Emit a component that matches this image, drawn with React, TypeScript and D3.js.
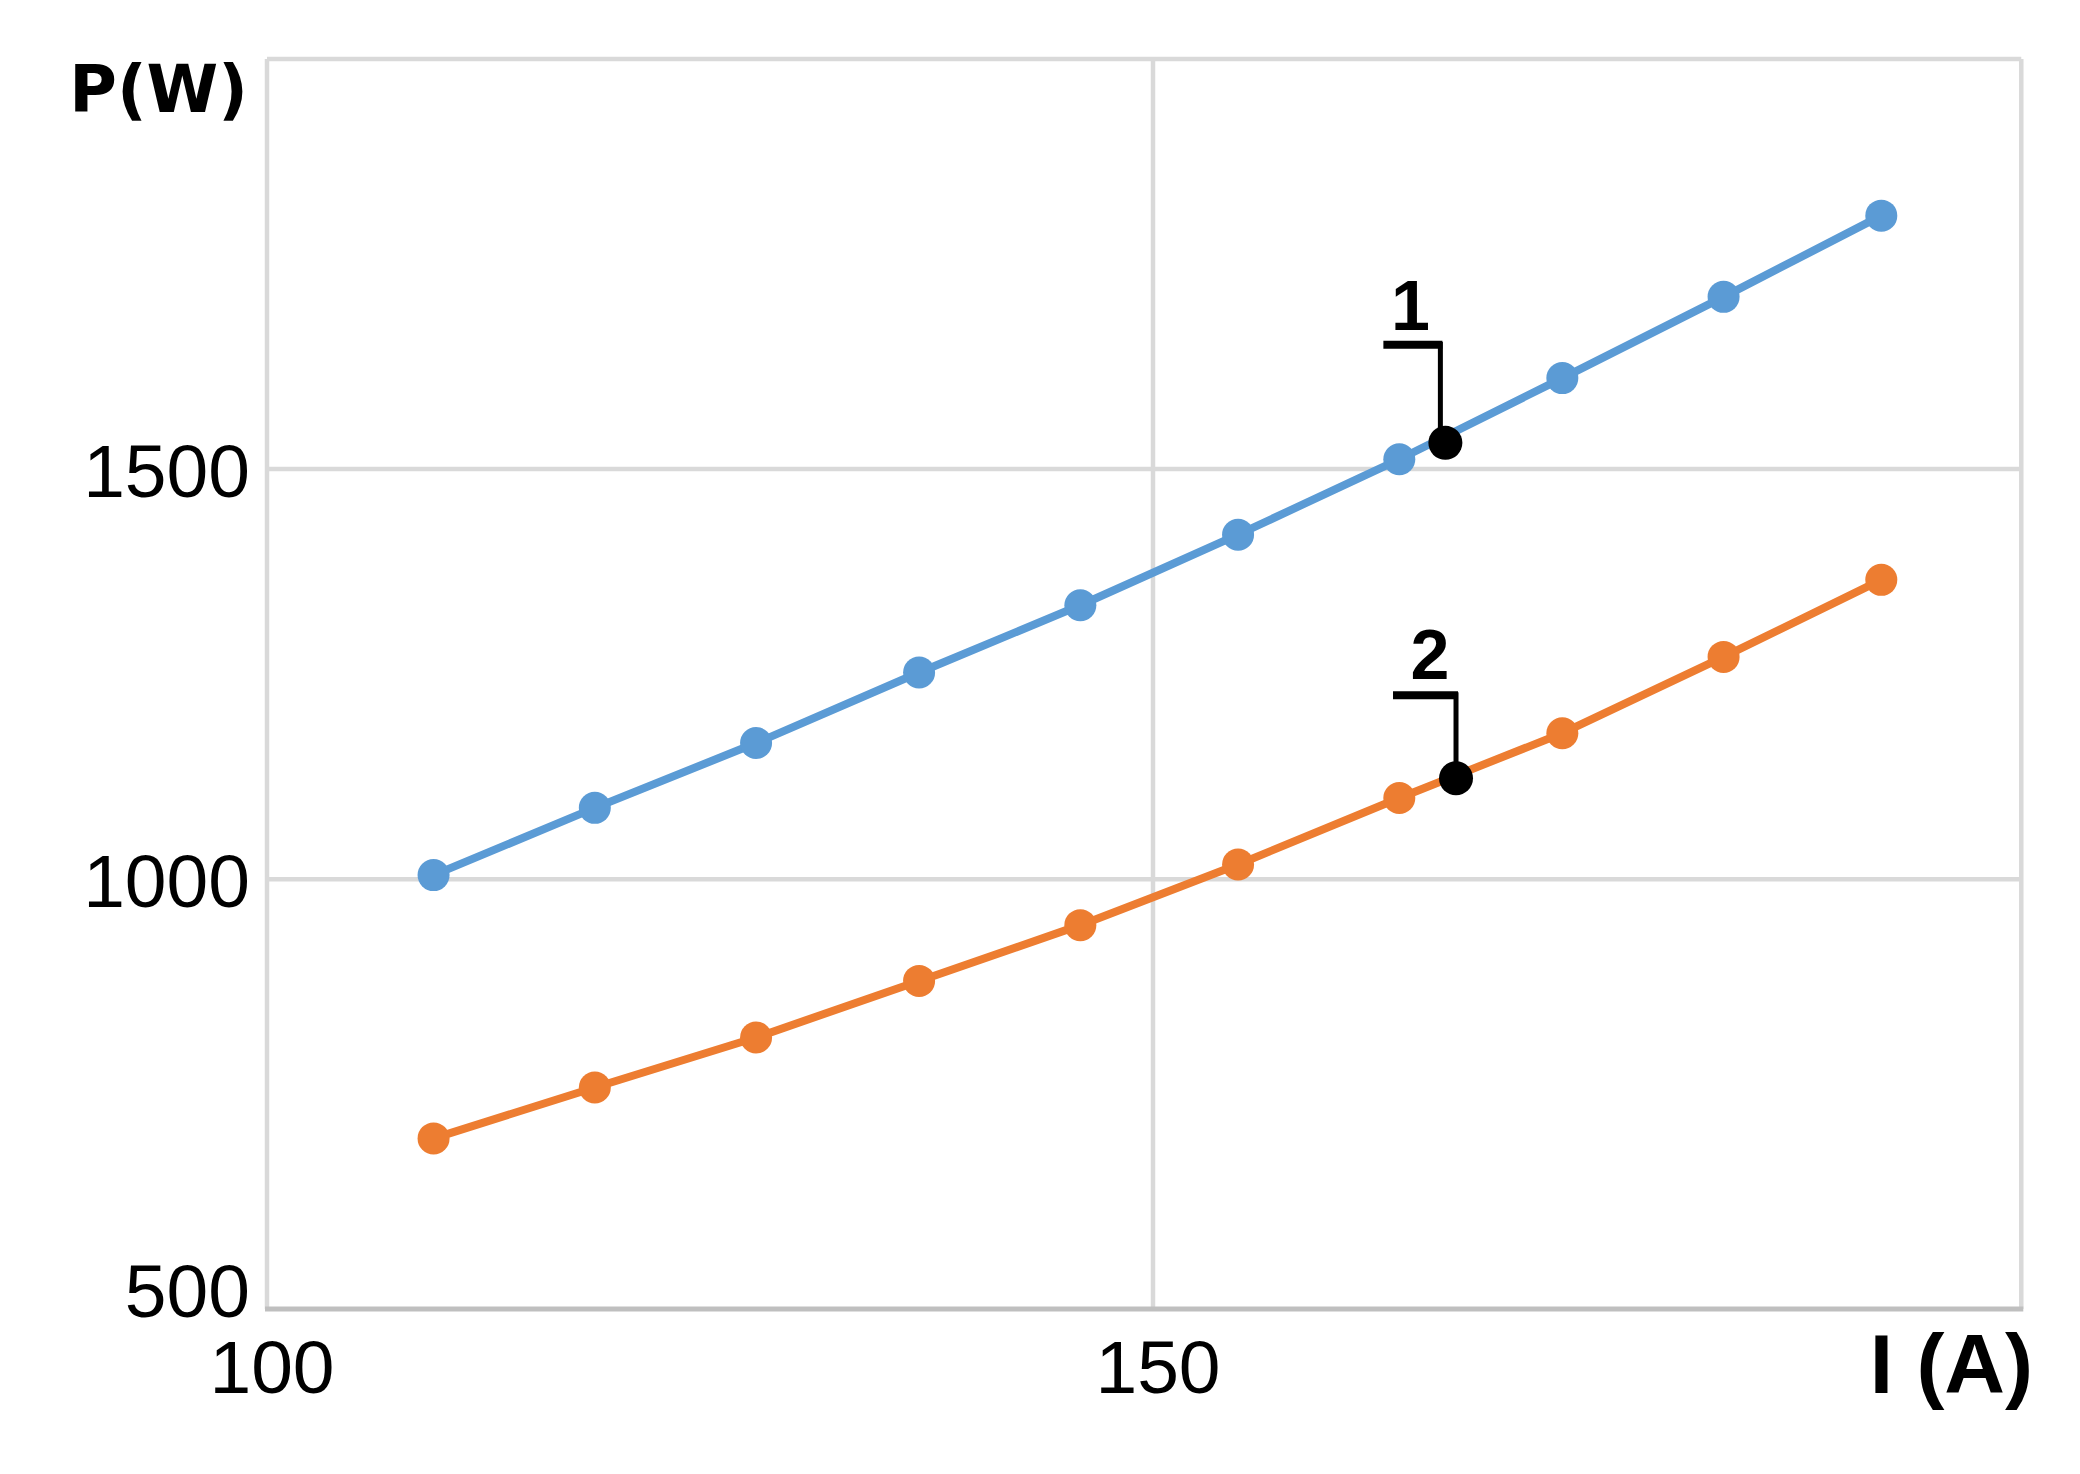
import React from 'react';
import * as d3 from 'd3';

// ---- data ----
const currentA: number[] = [109.4, 118.5, 127.6, 136.8, 145.9, 154.8, 163.9, 173.1, 182.2, 191.1];
const powerCurve1: number[] = [1005, 1087, 1166, 1252, 1334, 1420, 1512, 1611, 1710, 1809];
const powerCurve2: number[] = [684, 746, 807, 876, 944, 1018, 1099, 1178, 1271, 1365];

const xTicks: number[] = [100, 150];
const yTicks: number[] = [500, 1000, 1500];
const xGridValues: number[] = [150];
const yGridValues: number[] = [1000, 1500];

const annotationLabels: string[] = ['1', '2'];
const annotationI: number[] = [166.5, 167.1];
const annotationP: number[] = [1532, 1123];

const xAxisTitle = 'I (A)';
const yAxisTitle = 'P(W)';

// ---- layout ----
const W = 2080;
const H = 1474;
const X_MIN = 100;
const X_MAX = 199;
const Y_MIN = 476;
const Y_MAX = 2000;
const PLOT_LEFT = 267;
const PX_PER_A = 17.72;
const PLOT_TOP = 59;
const PLOT_BOTTOM = 1309;

const BLUE = '#5b9bd5';
const ORANGE = '#ed7d31';
const GRID = '#d9d9d9';
const AXIS = '#bfbfbf';
const FONT = '"Liberation Sans", Arial, sans-serif';
const TITLE_FONT = '"DejaVu Sans", Verdana, sans-serif';

// per-annotation leader geometry (pixel offsets from the marked point)
const leaderStyles = [
  { vx: -5, elbowDy: -98, hx0: -62, hx1: -3, labelDx: -35, labelDy: -113 },
  { vx: 0, elbowDy: -83, hx0: -63, hx1: 2, labelDx: -26, labelDy: -99 },
];

export default function App() {
  const x = d3.scaleLinear().domain([X_MIN, X_MAX]).range([PLOT_LEFT, PLOT_LEFT + (X_MAX - X_MIN) * PX_PER_A]);
  const y = d3.scaleLinear().domain([Y_MIN, Y_MAX]).range([PLOT_BOTTOM, PLOT_TOP]);

  const line = d3
    .line<number>()
    .x((_, i) => x(currentA[i]))
    .y((d) => y(d));

  const series = [
    { values: powerCurve1, color: BLUE },
    { values: powerCurve2, color: ORANGE },
  ];

  const x0 = x(X_MIN);
  const x1 = x(X_MAX);
  const yTop = y(Y_MAX);
  const yBot = y(Y_MIN);

  return (
    <div style={{ position: 'absolute', left: 0, top: 0 }}>
      <svg width={W} height={H} viewBox={`0 0 ${W} ${H}`} style={{ display: 'block', background: '#fff' }}>
        <rect x={0} y={0} width={W} height={H} fill="#fff" />
        {/* gridlines */}
        {yGridValues.map((v) => (
          <line key={'gy' + v} x1={x0} x2={x1} y1={y(v)} y2={y(v)} stroke={GRID} strokeWidth={4.5} />
        ))}
        {xGridValues.map((v) => (
          <line key={'gx' + v} x1={x(v)} x2={x(v)} y1={yTop} y2={yBot} stroke={GRID} strokeWidth={4.5} />
        ))}
        {/* plot frame */}
        <line x1={x0} x2={x1} y1={yTop} y2={yTop} stroke={GRID} strokeWidth={4.5} />
        <line x1={x0} x2={x0} y1={yTop} y2={yBot} stroke={GRID} strokeWidth={4.5} />
        <line x1={x1} x2={x1} y1={yTop} y2={yBot} stroke={GRID} strokeWidth={4.5} />
        <line x1={x0 - 2} x2={x1 + 2} y1={yBot} y2={yBot} stroke={AXIS} strokeWidth={5} />

        {/* series */}
        {series.map((s, si) => (
          <g key={'s' + si}>
            <path d={line(s.values) || ''} fill="none" stroke={s.color} strokeWidth={8} strokeLinejoin="round" />
            {s.values.map((v, i) => (
              <circle key={i} cx={x(currentA[i])} cy={y(v)} r={16} fill={s.color} />
            ))}
          </g>
        ))}

        {/* annotations */}
        {annotationLabels.map((lab, i) => {
          const cx = x(annotationI[i]);
          const cy = y(annotationP[i]);
          const st = leaderStyles[i];
          return (
            <g key={'a' + i}>
              <line x1={cx + st.vx} x2={cx + st.vx} y1={cy} y2={cy + st.elbowDy - 3} stroke="#000" strokeWidth={5} />
              <line x1={cx + st.hx0} x2={cx + st.hx1} y1={cy + st.elbowDy} y2={cy + st.elbowDy} stroke="#000" strokeWidth={8} />
              <circle cx={cx} cy={cy} r={17} fill="#000" />
              <text
                x={cx + st.labelDx}
                y={cy + st.labelDy}
                textAnchor="middle"
                fontFamily={FONT}
                fontWeight="bold"
                fontSize={70}
                fill="#000"
              >
                {lab}
              </text>
            </g>
          );
        })}

        {/* tick labels */}
        {yTicks.map((v) => (
          <text key={'ty' + v} x={250} y={y(v) + 28} textAnchor="end" fontFamily={FONT} fontSize={75} fill="#000">
            {v}
          </text>
        ))}
        {xTicks.map((v) => (
          <text key={'tx' + v} x={x(v) + 5} y={1393} textAnchor="middle" fontFamily={FONT} fontSize={75} fill="#000">
            {v}
          </text>
        ))}

        {/* axis titles */}
        <text x={248} y={112} textAnchor="end" fontFamily={TITLE_FONT} fontWeight="bold" fontSize={65} fill="#000">
          {yAxisTitle}
        </text>
        <text x={2033} y={1393} textAnchor="end" fontFamily={FONT} fontWeight="bold" fontSize={84} fill="#000">
          {xAxisTitle}
        </text>
      </svg>
    </div>
  );
}
